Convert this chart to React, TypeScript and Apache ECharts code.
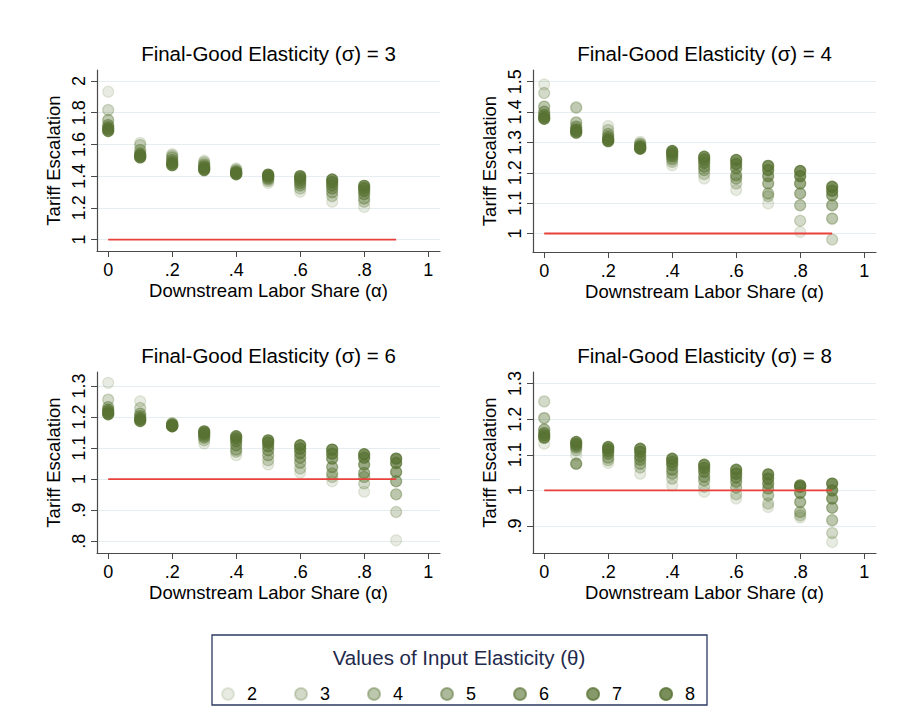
import React, { useEffect, useRef } from "react";
import * as echarts from "echarts";

// ---------- data ----------
const thetas = [2, 3, 4, 5, 6, 7, 8];
const sigmas = [3, 4, 6, 8];
const alphas = [0, 0.1, 0.2, 0.3, 0.4, 0.5, 0.6, 0.7, 0.8, 0.9];
const xTicks = [0, 0.2, 0.4, 0.6, 0.8, 1];

// rows = alpha, columns = theta 2..8
const sigma3 = [
  [1.932, 1.817, 1.754, 1.722, 1.707, 1.695, 1.684],
  [1.61, 1.596, 1.564, 1.543, 1.533, 1.526, 1.518],
  [1.539, 1.53, 1.518, 1.501, 1.488, 1.478, 1.469],
  [1.497, 1.488, 1.474, 1.463, 1.455, 1.446, 1.438],
  [1.448, 1.442, 1.433, 1.427, 1.421, 1.417, 1.412],
  [1.357, 1.37, 1.381, 1.389, 1.398, 1.404, 1.41],
  [1.301, 1.322, 1.341, 1.356, 1.373, 1.387, 1.4],
  [1.238, 1.274, 1.299, 1.322, 1.343, 1.362, 1.379],
  [1.206, 1.238, 1.259, 1.286, 1.307, 1.324, 1.339],
];
const sigma4 = [
  [1.491, 1.463, 1.418, 1.401, 1.39, 1.383, 1.378],
  [1.417, 1.414, 1.366, 1.352, 1.343, 1.338, 1.332],
  [1.354, 1.341, 1.328, 1.319, 1.312, 1.308, 1.304],
  [1.302, 1.297, 1.293, 1.288, 1.285, 1.282, 1.279],
  [1.225, 1.236, 1.245, 1.253, 1.259, 1.266, 1.272],
  [1.181, 1.196, 1.209, 1.22, 1.233, 1.244, 1.253],
  [1.143, 1.165, 1.181, 1.192, 1.215, 1.229, 1.242],
  [1.099, 1.123, 1.132, 1.165, 1.189, 1.209, 1.223],
  [1.005, 1.042, 1.093, 1.132, 1.165, 1.189, 1.206],
  [null, 0.98, 1.049, 1.093, 1.126, 1.141, 1.154],
];
const sigma6 = [
  [1.31, 1.256, 1.232, 1.224, 1.219, 1.213, 1.209],
  [1.251, 1.229, 1.211, 1.203, 1.196, 1.192, 1.187],
  [1.181, 1.179, 1.177, 1.175, 1.173, 1.171, 1.17],
  [1.115, 1.125, 1.133, 1.138, 1.144, 1.149, 1.154],
  [1.077, 1.088, 1.095, 1.109, 1.122, 1.131, 1.138],
  [1.047, 1.061, 1.077, 1.093, 1.106, 1.117, 1.125],
  [1.021, 1.034, 1.053, 1.069, 1.084, 1.098, 1.109],
  [0.993, 1.007, 1.018, 1.039, 1.066, 1.082, 1.095],
  [0.959, 0.986, 1.007, 1.02, 1.047, 1.069, 1.08],
  [0.803, 0.894, 0.951, 0.993, 1.023, 1.052, 1.066],
];
const sigma8 = [
  [1.131, 1.25, 1.203, 1.171, 1.161, 1.155, 1.148],
  [1.099, 1.113, 1.12, 1.125, 1.075, 1.13, 1.136],
  [1.077, 1.085, 1.092, 1.103, 1.11, 1.116, 1.122],
  [1.047, 1.064, 1.075, 1.086, 1.096, 1.108, 1.117],
  [1.014, 1.033, 1.047, 1.058, 1.071, 1.08, 1.089],
  [0.996, 1.01, 1.028, 1.038, 1.052, 1.063, 1.072],
  [0.977, 0.989, 1.008, 1.024, 1.036, 1.047, 1.058],
  [0.953, 0.963, 0.986, 1.005, 1.019, 1.033, 1.045],
  [0.924, 0.93, 0.939, 0.967, 0.993, 1.01, 1.014],
  [0.855, 0.88, 0.916, 0.951, 0.977, 1.0, 1.019],
];
const panelData = [sigma3, sigma4, sigma6, sigma8];

const yTicks3 = [1, 1.2, 1.4, 1.6, 1.8, 2];
const yTicks4 = [1, 1.1, 1.2, 1.3, 1.4, 1.5];
const yTicks6 = [0.8, 0.9, 1, 1.1, 1.2, 1.3];
const yTicks8 = [0.9, 1, 1.1, 1.2, 1.3];
const panelYTicks = [yTicks3, yTicks4, yTicks6, yTicks8];
const yMins = [0.928, 0.939, 0.762, 0.824];
const yMaxs = [2.069, 1.5386, 1.345, 1.3326];

const refLineX = [0, 0.9];
const refLineY = 1;

// ---------- styles ----------
const FONT = "'Liberation Sans', Arial, Helvetica, sans-serif";
const GREEN = [88, 114, 50];
const ALPHAS = [0.18, 0.33, 0.5, 0.62, 0.76, 0.9, 1];
const rgba = (a: number) => `rgba(${GREEN[0]},${GREEN[1]},${GREEN[2]},${a})`;

const TITLE_FS = 20.5;
const NAME_FS = 18.5;
const TICK_FS = 18;

const grids = [
  { left: 97, top: 70, width: 343, height: 181 },
  { left: 533, top: 70, width: 343, height: 182 },
  { left: 97, top: 372, width: 343, height: 181 },
  { left: 533, top: 372, width: 343, height: 181 },
];

const fmt = (v: number) => {
  let s = String(+Number(v).toFixed(3));
  if (s.startsWith("0.")) s = s.slice(1);
  return s;
};

function buildOption() {
  const xAxis: any[] = [];
  const yAxis: any[] = [];
  const series: any[] = [];
  const titles: any[] = [];

  grids.forEach((g, p) => {
    titles.push({
      text: `Final-Good Elasticity (σ) = ${sigmas[p]}`,
      left: g.left + g.width / 2,
      top: g.top - 27,
      textAlign: "center",
      padding: 0,
      textStyle: { fontSize: TITLE_FS, fontWeight: "normal", color: "#000", fontFamily: FONT },
    });
    xAxis.push({
      type: "value",
      gridIndex: p,
      min: -0.035,
      max: 1.037,
      name: "Downstream Labor Share (α)",
      nameLocation: "middle",
      nameGap: 30,
      nameTextStyle: { fontSize: NAME_FS, color: "#000", fontFamily: FONT },
      axisLine: { show: true, onZero: false, lineStyle: { color: "#4a4a4a", width: 1.2 } },
      axisTick: { show: true, length: 6, customValues: xTicks, lineStyle: { color: "#4a4a4a" } },
      axisLabel: {
        customValues: xTicks,
        formatter: fmt,
        fontSize: TICK_FS,
        color: "#000",
        margin: 10,
        fontFamily: FONT,
      },
      splitLine: { show: false },
    });
    yAxis.push({
      type: "value",
      gridIndex: p,
      min: yMins[p],
      max: yMaxs[p],
      name: "Tariff Escalation",
      nameLocation: "middle",
      nameRotate: 90,
      nameGap: 34,
      nameTextStyle: { fontSize: NAME_FS, color: "#000", fontFamily: FONT },
      axisLine: { show: true, onZero: false, lineStyle: { color: "#4a4a4a", width: 1.2 } },
      axisTick: { show: true, length: 6, customValues: panelYTicks[p], lineStyle: { color: "#4a4a4a" } },
      axisLabel: {
        customValues: panelYTicks[p],
        formatter: fmt,
        rotate: 90,
        fontSize: TICK_FS,
        color: "#000",
        margin: 9,
        fontFamily: FONT,
      },
      splitLine: { show: true, lineStyle: { color: "#e5edf0", width: 1 } },
    });

    const rows = panelData[p];
    thetas.forEach((t, k) => {
      const data: any[] = [];
      rows.forEach((row, i) => {
        const v = row[k];
        if (v !== null && v !== undefined) data.push([alphas[i], v]);
      });
      series.push({
        type: "scatter",
        name: String(t),
        xAxisIndex: p,
        yAxisIndex: p,
        data,
        symbol: "circle",
        symbolSize: 11,
        silent: true,
        itemStyle: { color: rgba(ALPHAS[k]), borderColor: rgba(ALPHAS[k]), borderWidth: 1.2 },
        emphasis: { disabled: true },
        z: 2,
      });
    });
    series.push({
      type: "line",
      name: "ref",
      xAxisIndex: p,
      yAxisIndex: p,
      data: refLineX.map((x) => [x, refLineY]),
      symbol: "none",
      silent: true,
      lineStyle: { color: "#e8403a", width: 1.8 },
      z: 5,
    });
  });

  titles.push({
    text: "Values of Input Elasticity (θ)",
    left: 459,
    top: 647,
    textAlign: "center",
    padding: 0,
    textStyle: { fontSize: TITLE_FS, fontWeight: "normal", color: "#1f2b4d", fontFamily: FONT },
  });

  return {
    animation: false,
    backgroundColor: "#fff",
    textStyle: { fontFamily: FONT },
    title: titles,
    grid: grids.map((g) => ({ ...g, containLabel: false })),
    xAxis,
    yAxis,
    legend: {
      data: thetas.map(String),
      left: 216,
      top: 680,
      orient: "horizontal",
      itemWidth: 12,
      itemHeight: 12,
      itemGap: 37,
      selectedMode: false,
      textStyle: { fontSize: TICK_FS, color: "#000", fontFamily: FONT, padding: [0, 0, 0, 8] },
    },
    graphic: [
      {
        type: "rect",
        shape: { x: 212, y: 635, width: 495, height: 70 },
        style: { fill: "none", stroke: "#2b3a63", lineWidth: 1.3 },
        silent: true,
      },
    ],
    series,
  };
}

export default function App() {
  const ref = useRef<HTMLDivElement>(null);
  useEffect(() => {
    if (!ref.current) return;
    const chart = echarts.init(ref.current, undefined, { renderer: "svg" });
    chart.setOption(buildOption() as any);
    return () => chart.dispose();
  }, []);
  return (
    <div
      ref={ref}
      style={{ position: "fixed", left: 0, top: 0, width: 904, height: 725, background: "#fff" }}
    />
  );
}
